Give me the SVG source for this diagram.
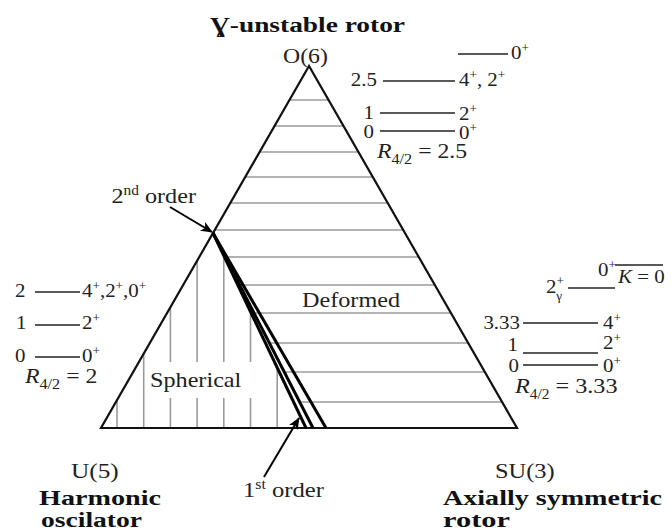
<svg xmlns="http://www.w3.org/2000/svg" width="671" height="531" viewBox="0 0 671 531">
<defs>
<style>
.t{font-family:"Liberation Serif","Times New Roman",serif;font-size:19px;fill:#222}
.l{font-family:"Liberation Serif","Times New Roman",serif;font-size:22px;fill:#222}
.b{font-family:"Liberation Serif","Times New Roman",serif;font-size:20px;font-weight:bold;fill:#111}
.edge{fill:none;stroke:#111;stroke-width:2.2;stroke-linejoin:miter}
.hatch{stroke:#9a9a9a;stroke-width:1.6}
.lvl{stroke:#222;stroke-width:1.7}
.thick{stroke:#000;stroke-width:3;stroke-linecap:butt}
.arr{stroke:#000;stroke-width:2;fill:none}
</style>
<marker id="ah" viewBox="0 0 12 10" refX="11" refY="5" markerWidth="12" markerHeight="10" markerUnits="userSpaceOnUse" orient="auto">
<path d="M0,0 L12,5 L0,10 L3,5 z" fill="#000"/>
</marker>
</defs>
<rect width="671" height="531" fill="#fff"/>

<g id="hatching">
<line class="hatch" x1="289.5" y1="100" x2="328.5" y2="100"/>
<line class="hatch" x1="274.5" y1="126" x2="343.5" y2="126"/>
<line class="hatch" x1="259.6" y1="152" x2="358.4" y2="152"/>
<line class="hatch" x1="245.2" y1="177" x2="372.8" y2="177"/>
<line class="hatch" x1="230.3" y1="203" x2="387.7" y2="203"/>
<line class="hatch" x1="214.8" y1="230" x2="403.2" y2="230"/>
<line class="hatch" x1="225.3" y1="257" x2="418.7" y2="257"/>
<line class="hatch" x1="239.7" y1="285" x2="434.8" y2="285"/>
<line class="hatch" x1="254" y1="313" x2="450.9" y2="313"/>
<line class="hatch" x1="269.4" y1="343" x2="468.2" y2="343"/>
<line class="hatch" x1="284.3" y1="372" x2="484.8" y2="372"/>
<line class="hatch" x1="299.7" y1="402" x2="502.1" y2="402"/>
<line class="hatch" x1="117" y1="400" x2="117" y2="428"/>
<line class="hatch" x1="143.7" y1="354" x2="143.7" y2="428"/>
<line class="hatch" x1="170.4" y1="307" x2="170.4" y2="362"/>
<line class="hatch" x1="170.4" y1="398" x2="170.4" y2="428"/>
<line class="hatch" x1="197.1" y1="261" x2="197.1" y2="362"/>
<line class="hatch" x1="197.1" y1="398" x2="197.1" y2="428"/>
<line class="hatch" x1="223.8" y1="256" x2="223.8" y2="362"/>
<line class="hatch" x1="223.8" y1="398" x2="223.8" y2="428"/>
<line class="hatch" x1="250.5" y1="312" x2="250.5" y2="362"/>
<line class="hatch" x1="250.5" y1="398" x2="250.5" y2="428"/>
<line class="hatch" x1="277.2" y1="368" x2="277.2" y2="428"/>
</g>

<g id="triangle">
<polygon class="edge" points="309,66 101,428 517,428"/>
</g>

<g id="transition-lines">
<line class="thick" x1="213" y1="233" x2="306" y2="428"/>
<line class="thick" x1="213" y1="233" x2="313" y2="428"/>
<line class="thick" x1="213" y1="233" x2="326" y2="428"/>
</g>

<g id="connectors">
<line class="arr" x1="170" y1="207" x2="212" y2="232" marker-end="url(#ah)"/>
<line class="arr" x1="264" y1="477" x2="299" y2="418" marker-end="url(#ah)"/>
</g>

<g id="title">
<text class="b" x="210" y="32" font-size="24" textLength="195" lengthAdjust="spacingAndGlyphs">Ɣ-unstable rotor</text>
</g>

<g id="vertex-o6">
<text class="l" transform="translate(283,63) scale(1.08,1)">O(6)</text>
</g>
<g id="vertex-u5">
<text class="l" transform="translate(71,478) scale(1.15,1)">U(5)</text>
<text class="b" x="39" y="505" textLength="122" lengthAdjust="spacingAndGlyphs">Harmonic</text>
<text class="b" x="41" y="527" textLength="101" lengthAdjust="spacingAndGlyphs">oscilator</text>
</g>
<g id="vertex-su3">
<text class="l" transform="translate(495,478) scale(1.11,1)">SU(3)</text>
<text class="b" x="443" y="505" textLength="219" lengthAdjust="spacingAndGlyphs">Axially symmetric</text>
<text class="b" x="443" y="527" textLength="67" lengthAdjust="spacingAndGlyphs">rotor</text>
</g>

<g id="regions">
<text class="l" transform="translate(150,387) scale(1.1,1)">Spherical</text>
<text class="l" transform="translate(302,307) scale(1.1,1)">Deformed</text>
</g>

<g id="label-2nd-order">
<text class="l" text-anchor="end" transform="translate(196,203) scale(1.1,1)">2<tspan font-size="14" dy="-8">nd</tspan><tspan dy="8"> order</tspan></text>
</g>
<g id="label-1st-order">
<text class="l" transform="translate(243,497) scale(1.12,1)">1<tspan font-size="14" dy="-8">st</tspan><tspan dy="8"> order</tspan></text>
</g>

<g id="levels-o6">
<line class="lvl" x1="458" y1="54" x2="508" y2="54"/>
<text class="t" transform="translate(511,59) scale(1.1,1)">0<tspan font-size="12" dy="-7">+</tspan></text>
<text class="t" text-anchor="end" transform="translate(377,86) scale(1.1,1)">2.5</text>
<line class="lvl" x1="383" y1="81" x2="455" y2="81"/>
<text class="t" transform="translate(459,86) scale(1.1,1)">4<tspan font-size="12" dy="-7">+</tspan><tspan dy="7">, 2</tspan><tspan font-size="12" dy="-7">+</tspan></text>
<text class="t" text-anchor="end" transform="translate(374,119) scale(1.1,1)">1</text>
<line class="lvl" x1="380" y1="113" x2="455" y2="113"/>
<text class="t" transform="translate(459,120) scale(1.1,1)">2<tspan font-size="12" dy="-7">+</tspan></text>
<text class="t" text-anchor="end" transform="translate(374,138) scale(1.1,1)">0</text>
<line class="lvl" x1="380" y1="131" x2="455" y2="131"/>
<text class="t" transform="translate(459,139) scale(1.1,1)">0<tspan font-size="12" dy="-7">+</tspan></text>
<text class="l" transform="translate(377,158) scale(1.08,1)"><tspan font-style="italic">R</tspan><tspan font-size="15" dy="6">4/2</tspan><tspan dy="-6"> = 2.5</tspan></text>
</g>

<g id="levels-u5">
<text class="t" transform="translate(15,297) scale(1.1,1)">2</text>
<line class="lvl" x1="35" y1="292" x2="80" y2="292"/>
<text class="t" transform="translate(82,297) scale(1.1,1)">4<tspan font-size="12" dy="-7">+</tspan><tspan dy="7">,2</tspan><tspan font-size="12" dy="-7">+</tspan><tspan dy="7">,0</tspan><tspan font-size="12" dy="-7">+</tspan></text>
<text class="t" transform="translate(16,329) scale(1.1,1)">1</text>
<line class="lvl" x1="35" y1="325" x2="80" y2="325"/>
<text class="t" transform="translate(82,329) scale(1.1,1)">2<tspan font-size="12" dy="-7">+</tspan></text>
<text class="t" transform="translate(15,362) scale(1.1,1)">0</text>
<line class="lvl" x1="35" y1="357" x2="80" y2="357"/>
<text class="t" transform="translate(82,362) scale(1.1,1)">0<tspan font-size="12" dy="-7">+</tspan></text>
<text class="l" transform="translate(25,383) scale(1.08,1)"><tspan font-style="italic">R</tspan><tspan font-size="15" dy="6">4/2</tspan><tspan dy="-6"> = 2</tspan></text>
</g>

<g id="levels-su3">
<text class="t" transform="translate(598,276) scale(1.1,1)">0<tspan font-size="12" dy="-7">+</tspan></text>
<line class="lvl" x1="615" y1="265" x2="663" y2="265"/>
<text class="t" transform="translate(618,283) scale(1.1,1)"><tspan font-style="italic">K</tspan> = 0</text>
<text class="t" transform="translate(546,293) scale(1.1,1)">2<tspan font-size="12" dy="-8">+</tspan><tspan font-size="12" dx="-7" dy="15">γ</tspan></text>
<line class="lvl" x1="568" y1="288" x2="615" y2="288"/>
<text class="t" text-anchor="end" transform="translate(520,329) scale(1.1,1)">3.33</text>
<line class="lvl" x1="523" y1="323" x2="598" y2="323"/>
<text class="t" transform="translate(603,329) scale(1.1,1)">4<tspan font-size="12" dy="-7">+</tspan></text>
<text class="t" text-anchor="end" transform="translate(518,351) scale(1.1,1)" fill="#1f6f6f">1</text>
<line class="lvl" x1="523" y1="353" x2="598" y2="353" stroke-width="2.2"/>
<text class="t" transform="translate(603,349) scale(1.1,1)">2<tspan font-size="12" dy="-7">+</tspan></text>
<text class="t" text-anchor="end" transform="translate(519,372) scale(1.1,1)">0</text>
<line class="lvl" x1="523" y1="365" x2="598" y2="365" stroke-width="2.2"/>
<text class="t" transform="translate(603,372) scale(1.1,1)">0<tspan font-size="12" dy="-7">+</tspan></text>
<text class="l" font-size="21" transform="translate(515,393) scale(1.1,1)"><tspan font-style="italic">R</tspan><tspan font-size="14" dy="6">4/2</tspan><tspan dy="-6"> = 3.33</tspan></text>
</g>
</svg>
